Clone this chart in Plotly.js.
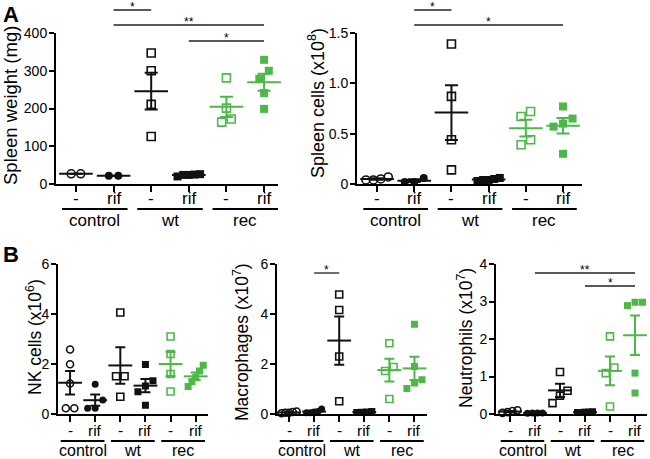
<!DOCTYPE html>
<html><head><meta charset="utf-8">
<script src="https://cdn.plot.ly/plotly-3.0.1.min.js"></script>
<style>html,body{margin:0;padding:0;background:#fff}#chart{width:650px;height:459px}</style>
</head><body><div id="chart"></div>
<script>
// ---------- data ----------
const categories = ['-', 'rif', '-', 'rif', '-', 'rif'];
const groups = ['control', 'wt', 'rec'];
const yTitles = ['Spleen weight (mg)', 'Spleen cells (x10<sup>8</sup>)', 'NK cells (x10<sup>6</sup>)', 'Macrophages (x10<sup>7</sup>)', 'Neutrophils (x10<sup>7</sup>)'];

const spleenWeight = [
  [27, 27],
  [22, 22],
  [347, 300, 211, 126],
  [26, 24, 20, 24, 25],
  [281, 201, 172, 164],
  [329, 300, 279, 241, 199]
];
const spleenCells = [
  [0.04, 0.07, 0.05, 0.04],
  [0.02, 0.02, 0.06],
  [1.39, 0.87, 0.44, 0.14],
  [0.06, 0.04, 0.05, 0.03, 0.04],
  [0.72, 0.67, 0.44, 0.39],
  [0.77, 0.65, 0.60, 0.57, 0.30]
];
const nkCells = [
  [2.58, 1.99, 1.22, 0.23, 0.23],
  [1.19, 0.56, 0.23, 0.23],
  [4.06, 1.51, 1.51, 0.69],
  [1.98, 1.33, 1.12, 0.89, 0.35],
  [3.1, 2.4, 1.6, 0.9],
  [1.95, 1.72, 1.46, 1.3, 1.1]
];
const macrophages = [
  [0.1, 0.05, 0.08, 0.03, 0.05],
  [0.05, 0.05, 0.08, 0.2, 0.1],
  [4.78, 4.16, 2.3, 0.51],
  [0.08, 0.06, 0.07, 0.1],
  [2.83, 1.88, 1.72, 0.6],
  [3.59, 1.9, 1.37, 1.24, 1.02]
];
const neutrophils = [
  [0.1, 0.05, 0.08, 0.03],
  [0.03, 0.03, 0.03, 0.02],
  [1.12, 0.62, 0.49, 0.29],
  [0.04, 0.05, 0.06, 0.05, 0.04],
  [2.07, 1.24, 1.09, 0.2],
  [2.98, 2.98, 2.89, 1.09, 0.56]
];

const yTickValsA1 = [0, 100, 200, 300, 400];
const yTickTextA1 = ['0', '100', '200', '300', '400'];
const yTickValsA2 = [0, 0.5, 1, 1.5];
const yTickTextA2 = ['0', '0.5', '1.0', '1.5'];
const yTickValsB = [0, 2, 4, 6];
const yTickTextB = ['0', '2', '4', '6'];
const yTickValsB3 = [0, 1, 2, 3, 4];
const yTickTextB3 = ['0', '1', '2', '3', '4'];

// significance comparisons: [from category, to category, label]
const sigA1 = [[2, 3, '*'], [2, 6, '**'], [4, 6, '*']];
const sigA2 = [[2, 3, '*'], [2, 6, '*']];
const sigB1 = [];
const sigB2 = [[2, 3, '*']];
const sigB3 = [[2, 6, '**'], [4, 6, '*']];

// ---------- styling / layout ----------
const W = 650, H = 459;
const G = '#4db848', K = '#111111';
const symbols = ['circle-open', 'circle', 'square-open', 'square', 'square-open', 'square'];
const colors = [K, K, K, K, G, G];
const FONT = 'Liberation Sans, Arial, Helvetica, sans-serif';

const panels = [
  {data: spleenWeight, yt: yTickValsA1, ytt: yTickTextA1, sig: sigA1, px: [56, 278], py: [33, 184], xr: [0.47, 6.37], yr: [0, 400],
   ms: 8, tf: 14, xf: 17, ttf: 18.5, gf: 17, mw: 24, cap: 6.5, sigPx: [10, 25, 41], off: [15, 25, 36], tpos: [10, 106]},
  {data: spleenCells, yt: yTickValsA2, ytt: yTickTextA2, sig: sigA2, px: [357, 582], py: [33, 184], xr: [0.46, 6.51], yr: [0, 1.5],
   ms: 8, tf: 14, xf: 17, ttf: 18, gf: 17, mw: 24, cap: 6.5, sigPx: [10, 25], off: [15, 25, 36], tpos: [316, 103]},
  {data: nkCells, yt: yTickValsB, ytt: yTickTextB, sig: sigB1, px: [58, 208], py: [264, 414], xr: [0.52, 6.49], yr: [0, 6],
   ms: 7, tf: 14, xf: 15.5, ttf: 17.5, gf: 16, mw: 17, cap: 5, sigPx: [], off: [16, 27, 36], tpos: [34, 337]},
  {data: macrophages, yt: yTickValsB, ytt: yTickTextB, sig: sigB2, px: [277, 427], py: [264, 414], xr: [0.52, 6.5], yr: [0, 6],
   ms: 7, tf: 14, xf: 15.5, ttf: 17.5, gf: 16, mw: 17, cap: 5, sigPx: [273], off: [16, 27, 36], tpos: [241, 342]},
  {data: neutrophils, yt: yTickValsB3, ytt: yTickTextB3, sig: sigB3, px: [496, 647], py: [264, 414], xr: [0.44, 6.48], yr: [0, 4],
   ms: 7, tf: 14, xf: 15.5, ttf: 17.5, gf: 16, mw: 17, cap: 5, sigPx: [273, 286], off: [16, 27, 36], tpos: [465, 338]}
];

function mean(a) { return a.reduce((s, v) => s + v, 0) / a.length; }
function sem(a) {
  const m = mean(a);
  const v = a.reduce((s, x) => s + (x - m) * (x - m), 0) / (a.length - 1);
  return Math.sqrt(v) / Math.sqrt(a.length);
}
// simple symmetric swarm offsets (in x units)
function swarm(vals, dPx, yppu, xppu, maxSpreadPx) {
  const idx = vals.map((v, i) => i).sort((a, b) => vals[a] - vals[b]);
  const clusters = [];
  let cur = [idx[0]];
  for (let k = 1; k < idx.length; k++) {
    if (Math.abs(vals[idx[k]] - vals[idx[k - 1]]) * yppu < dPx) cur.push(idx[k]);
    else { clusters.push(cur); cur = [idx[k]]; }
  }
  clusters.push(cur);
  const off = new Array(vals.length).fill(0);
  clusters.forEach(c => {
    const n = c.length;
    if (n < 2) return;
    const sp = Math.min(dPx, 2 * maxSpreadPx / (n - 1));
    c.forEach((i, j) => { off[i] = (j - (n - 1) / 2) * sp / xppu; });
  });
  return off;
}

const traces = [];
const layout = {
  width: W, height: H, margin: {l: 0, r: 0, t: 0, b: 0},
  paper_bgcolor: '#fff', plot_bgcolor: 'rgba(0,0,0,0)', showlegend: false,
  font: {family: FONT, color: '#000'},
  shapes: [], annotations: []
};

panels.forEach((p, pi) => {
  const s = pi === 0 ? '' : String(pi + 1);
  const xa = 'x' + s, ya = 'y' + s;
  const xppu = (p.px[1] - p.px[0]) / (p.xr[1] - p.xr[0]);
  const yppu = (p.py[1] - p.py[0]) / (p.yr[1] - p.yr[0]);
  const step = xppu;
  p.data.forEach((vals, c) => {
    const off = swarm(vals, p.ms + 1.5, yppu, xppu, 0.3 * step);
    traces.push({
      type: 'scatter', mode: 'markers', xaxis: xa, yaxis: ya, cliponaxis: false, hoverinfo: 'skip',
      x: vals.map((v, j) => c + 1 + off[j]), y: vals,
      marker: {symbol: symbols[c], size: p.ms, color: colors[c], line: {color: colors[c], width: symbols[c].indexOf('open') > 0 ? 1.6 : 0}}
    });
  });
  p.data.forEach((vals, c) => {
    traces.push({
      type: 'scatter', mode: 'markers', xaxis: xa, yaxis: ya, cliponaxis: false, hoverinfo: 'skip',
      x: [c + 1], y: [mean(vals)],
      marker: {symbol: 'line-ew-open', size: p.mw, color: colors[c], line: {color: colors[c], width: 2}},
      error_y: {type: 'data', array: [sem(vals)], visible: true, color: colors[c], thickness: 2, width: p.cap}
    });
  });
  layout['xaxis' + s] = {
    domain: [p.px[0] / W, p.px[1] / W], range: p.xr, anchor: ya,
    showline: true, linecolor: '#000', linewidth: 2, ticks: 'outside', ticklen: 6, tickwidth: 2, tickcolor: '#000',
    tickvals: [1, 2, 3, 4, 5, 6], showticklabels: false,
    showgrid: false, zeroline: false, fixedrange: true
  };
  layout['yaxis' + s] = {
    domain: [1 - p.py[1] / H, 1 - p.py[0] / H], range: p.yr, anchor: xa,
    showline: true, linecolor: '#000', linewidth: 2, ticks: 'outside', ticklen: 5, tickwidth: 2, tickcolor: '#000',
    tickvals: p.yt, ticktext: p.ytt, tickfont: {size: p.tf, family: FONT, color: '#000'}, ticklabelstandoff: -1,
    showgrid: false, zeroline: false, fixedrange: true
  };
  // y title
  layout.annotations.push({xref: 'paper', yref: 'paper', x: p.tpos[0] / W, y: 1 - p.tpos[1] / H, text: yTitles[pi], textangle: -90,
    showarrow: false, xanchor: 'center', yanchor: 'middle', font: {size: p.ttf, family: FONT, color: '#000'}});
  // category tick labels
  categories.forEach((t, c) => {
    layout.annotations.push({xref: xa, yref: 'paper', x: c + 1, y: 1 - (p.py[1] + p.off[0]) / H, text: t, showarrow: false,
      xanchor: 'center', yanchor: 'middle', font: {size: p.xf, family: FONT, color: '#000'}});
  });
  // group underlines and labels
  groups.forEach((g, gi) => {
    const a = 2 * gi + 1;
    const yl = 1 - (p.py[1] + p.off[1]) / H;
    layout.shapes.push({type: 'line', xref: xa, yref: 'paper', x0: a - 0.37, x1: a + 1.37, y0: yl, y1: yl, line: {color: '#000', width: 2}});
    layout.annotations.push({xref: xa, yref: 'paper', x: a + 0.5, y: 1 - (p.py[1] + p.off[2]) / H, text: g, showarrow: false,
      xanchor: 'center', yanchor: 'middle', font: {size: p.gf, family: FONT, color: '#000'}});
  });
  // significance bars
  p.sig.forEach((sg, k) => {
    const yl = 1 - p.sigPx[k] / H;
    layout.shapes.push({type: 'line', xref: xa, yref: 'paper', x0: sg[0], x1: sg[1], y0: yl, y1: yl, line: {color: '#222', width: 1.3}});
    layout.annotations.push({xref: xa, yref: 'paper', x: (sg[0] + sg[1]) / 2, y: 1 - (p.sigPx[k] - 3) / H, text: sg[2], showarrow: false,
      xanchor: 'center', yanchor: 'middle', font: {size: 12, family: FONT, color: '#000'}});
  });
});

layout.annotations.push({xref: 'paper', yref: 'paper', x: 0.002, y: 1.0, text: '<b>A</b>', showarrow: false, xanchor: 'left', yanchor: 'top', font: {size: 22, family: FONT, color: '#000'}});
layout.annotations.push({xref: 'paper', yref: 'paper', x: 0.002, y: 1 - 240 / H, text: '<b>B</b>', showarrow: false, xanchor: 'left', yanchor: 'top', font: {size: 22, family: FONT, color: '#000'}});

Plotly.newPlot('chart', traces, layout, {staticPlot: true, displayModeBar: false});
</script>
</body></html>
